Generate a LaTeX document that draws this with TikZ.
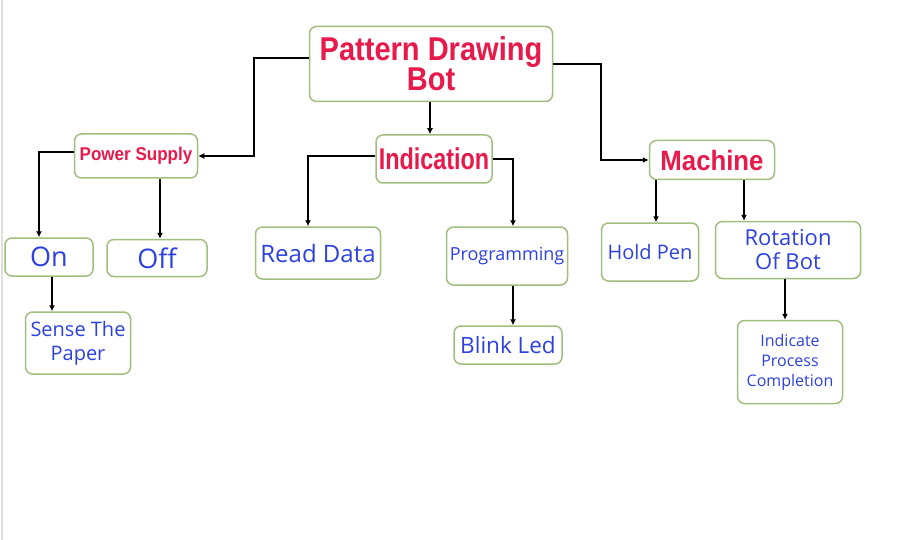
\documentclass[tikz,border=0pt]{standalone}
\usepackage{fontspec}
\setmainfont{Liberation Sans}
\newfontfamily\bluefont{Open Sans}
\usetikzlibrary{arrows.meta}
\definecolor{boxgreen}{RGB}{160,190,125}
\definecolor{titlered}{RGB}{232,25,75}
\definecolor{itemblue}{RGB}{45,65,225}
\newcommand{\squeeze}[2]{\scalebox{#1}[1]{#2}}
\tikzset{
  box/.style={draw=boxgreen, line width=1.5pt, rounded corners=7pt, fill=white, inner sep=0pt, align=center},
  head/.style 2 args={box, text=titlered, font=\bfseries\fontsize{#1}{#2}\selectfont},
  leaf/.style 2 args={box, text=itemblue, font=\bluefont\fontsize{#1}{#2}\selectfont},
  arr/.style={line width=1.8pt, -{Latex[length=6pt,width=6pt]}},
}
\begin{document}
\begin{tikzpicture}[x=1pt,y=-1pt]
	    \useasboundingbox (0,0) rectangle (920,540);
	    % borde gris a la izquierda
	    \draw[gray!25, line width=1.5pt] (2,0) -- (2,540);
	    % nodo principal
	    \node[head={33}{30}, minimum width=243pt, minimum height=75pt] (bot) at (431,64) {\squeeze{.88}{Pattern Drawing}\\\squeeze{.88}{Bot}};
	    % tres ramas
	    \node[head={18.5}{22}, minimum width=123pt, minimum height=44pt] (pwr) at (136,156) {\squeeze{.92}{Power Supply}};
	    \node[head={30}{34}, minimum width=116pt, minimum height=48pt] (ind) at (434,159) {\squeeze{.78}{Indication}};
	    \node[head={28}{32}, minimum width=125pt, minimum height=39pt] (mach) at (712,160) {\squeeze{.92}{Machine}};
	    % hojas
	    \node[leaf={27}{30}, minimum width=88pt, minimum height=38pt] (on) at (49,257) {On};
	    \node[leaf={27}{30}, minimum width=100pt, minimum height=37pt] (off) at (157,258) {Off};
	    \node[leaf={20}{24}, minimum width=105pt, minimum height=62pt] (sense) at (78,343) {Sense The\\Paper};
	    \node[leaf={24}{28}, minimum width=125pt, minimum height=52pt] (read) at (318,253) {Read Data};
	    \node[leaf={18}{22}, minimum width=121pt, minimum height=58pt] (prog) at (507,256) {Programming};
	    \node[leaf={22.5}{26}, minimum width=108pt, minimum height=38pt] (blink) at (508,345) {Blink Led};
	    \node[leaf={20}{24}, minimum width=97pt, minimum height=58pt] (hold) at (650,252) {Hold Pen};
	    \node[leaf={22}{24}, minimum width=145pt, minimum height=57pt] (rot) at (788,250) {Rotation\\Of Bot};
	    \node[leaf={16}{20}, minimum width=105pt, minimum height=83pt] (done) at (790,362) {Indicate\\Process\\Completion};
	    % conectores desde el nodo principal
	    \draw[arr] ([yshift=6pt]bot.west) -| (254,156) -- (pwr.east);
	    \draw[arr] (bot.east) -| (601,160) -- (mach.west);
	    \draw[arr] ([xshift=-1pt]bot.south) -- ([xshift=-1pt]bot.south |- ind.north);
	    % conectores de Power Supply
	    \draw[arr] ([yshift=4pt]pwr.west) -| ([xshift=-10pt]on.north);
	    \draw[arr] ([xshift=24pt]pwr.south) -- ([xshift=24pt]pwr.south |- off.north);
	    \draw[arr] ([xshift=3pt]on.south) -- ([xshift=3pt]on.south |- sense.north);
	    % conectores de Indication
	    \draw[arr] ([yshift=3pt]ind.west) -| ([xshift=-10pt]read.north);
	    \draw[arr] (ind.east) -| ([xshift=6pt]prog.north);
	    \draw[arr] ([xshift=6pt]prog.south) -- ([xshift=6pt]prog.south |- blink.north);
	    % conectores de Machine
	    \draw[arr] ([xshift=-56pt]mach.south) -- ([xshift=-56pt]mach.south |- hold.north);
	    \draw[arr] ([xshift=32pt]mach.south) -- ([xshift=32pt]mach.south |- rot.north);
	    \draw[arr] ([xshift=-3pt]rot.south) -- ([xshift=-3pt]rot.south |- done.north);
\end{tikzpicture}
\end{document}
